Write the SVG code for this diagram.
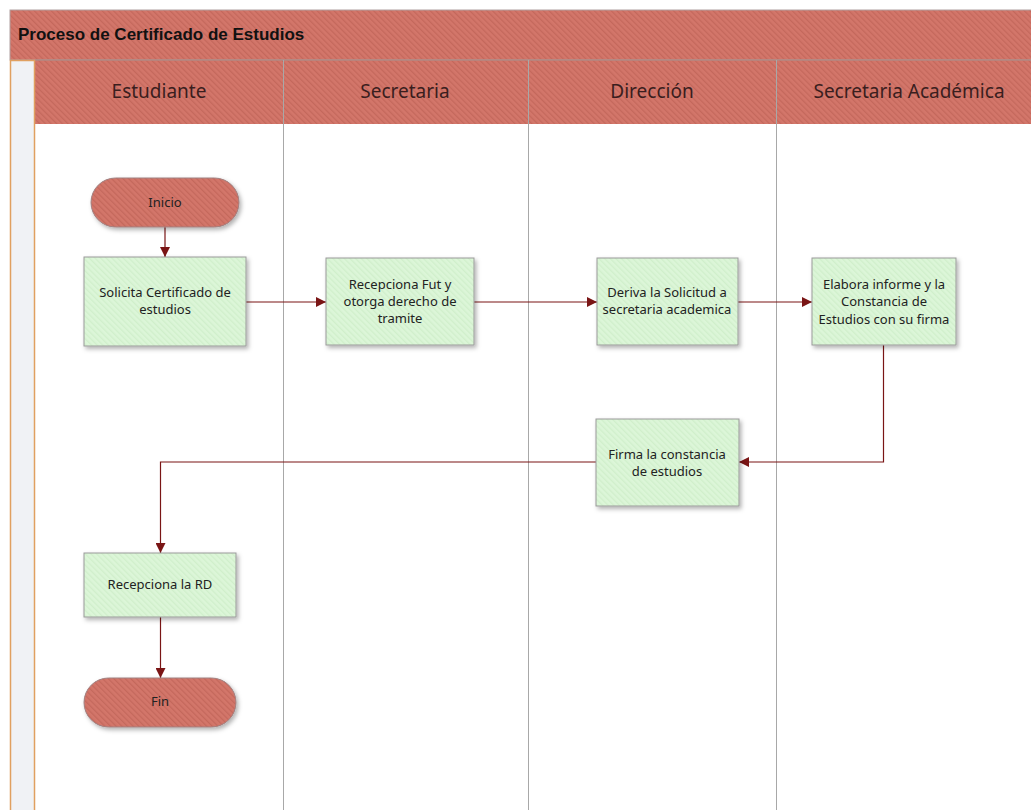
<svg xmlns="http://www.w3.org/2000/svg" width="1031" height="810" viewBox="0 0 1031 810">
<defs>
<pattern id="hatchRed" width="4" height="4" patternUnits="userSpaceOnUse" patternTransform="rotate(-45)">
<rect width="4" height="4" fill="#d3766a"/>
<rect width="1.3" height="4" fill="#c4685c"/>
</pattern>
<pattern id="hatchGreen" width="4" height="4" patternUnits="userSpaceOnUse" patternTransform="rotate(-45)">
<rect width="4" height="4" fill="#dcf6d8"/>
<rect width="1.3" height="4" fill="#d0efcb"/>
</pattern>
<filter id="shadow" x="-20%" y="-20%" width="150%" height="150%">
<feDropShadow dx="2" dy="2.5" stdDeviation="2" flood-color="#000" flood-opacity="0.3"/>
</filter>
<marker id="arrow" viewBox="0 0 10 10" refX="10" refY="5" markerWidth="10" markerHeight="10" markerUnits="userSpaceOnUse" orient="auto">
<path d="M0,0 L10,5 L0,10 Z" fill="#7a1515"/>
</marker>
<style>
.title{font-family:"Liberation Sans",Arial,sans-serif;font-weight:bold;font-size:17px;fill:#111}
.lane{font-family:"Noto Sans","Open Sans",sans-serif;font-size:19px;fill:#3a1e1e;text-anchor:middle}
.txt{font-family:"Noto Sans","Open Sans",sans-serif;font-size:13px;fill:#222;text-anchor:middle}
.proc{fill:url(#hatchGreen);stroke:#9a9a9a;stroke-width:1;filter:url(#shadow)}
.term{fill:url(#hatchRed);stroke:#a08080;stroke-width:1;filter:url(#shadow)}
.conn{fill:none;stroke:#7a1515;stroke-width:1.2}
.div{stroke:#a8a8a8;stroke-width:1}
</style>
</defs>
<rect width="1031" height="810" fill="#ffffff"/>
<g id="pool">
<rect x="10" y="10" width="1030" height="50" fill="url(#hatchRed)" stroke="#b0a0a0" stroke-width="1"/>
<text class="title" x="18" y="40">Proceso de Certificado de Estudios</text>
<rect x="35" y="60" width="1005" height="64" fill="url(#hatchRed)"/>
<line x1="35" y1="60" x2="1031" y2="60" stroke="#b08a84" stroke-width="1.5"/>
<rect x="10.5" y="60.5" width="24" height="760" fill="#f0f2f5" stroke="#e0a060" stroke-width="1.5"/>
</g>
<g id="lanes">
<line class="div" x1="283.5" y1="60" x2="283.5" y2="810"/>
<line class="div" x1="528.5" y1="60" x2="528.5" y2="810"/>
<line class="div" x1="776.5" y1="60" x2="776.5" y2="810"/>
<text class="lane" x="159" y="98">Estudiante</text>
<text class="lane" x="405" y="98">Secretaria</text>
<text class="lane" x="652" y="98">Dirección</text>
<text class="lane" x="909" y="98">Secretaria Académica</text>
</g>
<g id="connectors">
<line class="conn" x1="165" y1="227" x2="165" y2="257" marker-end="url(#arrow)"/>
<line class="conn" x1="246" y1="302" x2="326" y2="302" marker-end="url(#arrow)"/>
<line class="conn" x1="474" y1="302" x2="597" y2="302" marker-end="url(#arrow)"/>
<line class="conn" x1="738" y1="302" x2="812" y2="302" marker-end="url(#arrow)"/>
<polyline class="conn" points="883.5,345 883.5,462 739,462" marker-end="url(#arrow)"/>
<polyline class="conn" points="596,462 160.5,462 160.5,553" marker-end="url(#arrow)"/>
<line class="conn" x1="160.5" y1="617" x2="160.5" y2="678" marker-end="url(#arrow)"/>
</g>
<g id="inicio">
<rect class="term" x="91" y="178" width="148" height="49" rx="24.5" ry="24.5"/>
<text class="txt" x="165" y="207">Inicio</text>
</g>
<g id="solicita">
<rect class="proc" x="84" y="257" width="162" height="89"/>
<text class="txt" x="165" y="297">Solicita Certificado de</text>
<text class="txt" x="165" y="314">estudios</text>
</g>
<g id="recepciona-fut">
<rect class="proc" x="326" y="258" width="148" height="87"/>
<text class="txt" x="400" y="289">Recepciona Fut y</text>
<text class="txt" x="400" y="306">otorga derecho de</text>
<text class="txt" x="400" y="323">tramite</text>
</g>
<g id="deriva">
<rect class="proc" x="597" y="258" width="141" height="87"/>
<text class="txt" x="667" y="297">Deriva la Solicitud a</text>
<text class="txt" x="667" y="314">secretaria academica</text>
</g>
<g id="elabora">
<rect class="proc" x="812" y="258" width="144" height="87"/>
<text class="txt" x="884" y="289">Elabora informe y la</text>
<text class="txt" x="884" y="306">Constancia de</text>
<text class="txt" x="884" y="324">Estudios con su firma</text>
</g>
<g id="firma">
<rect class="proc" x="596" y="419" width="143" height="87"/>
<text class="txt" x="667" y="459">Firma la constancia</text>
<text class="txt" x="667" y="476">de estudios</text>
</g>
<g id="recepciona-rd">
<rect class="proc" x="84" y="553" width="152" height="64"/>
<text class="txt" x="160" y="589">Recepciona la RD</text>
</g>
<g id="fin">
<rect class="term" x="84" y="678" width="152" height="49" rx="24.5" ry="24.5"/>
<text class="txt" x="160" y="706">Fin</text>
</g>
</svg>
